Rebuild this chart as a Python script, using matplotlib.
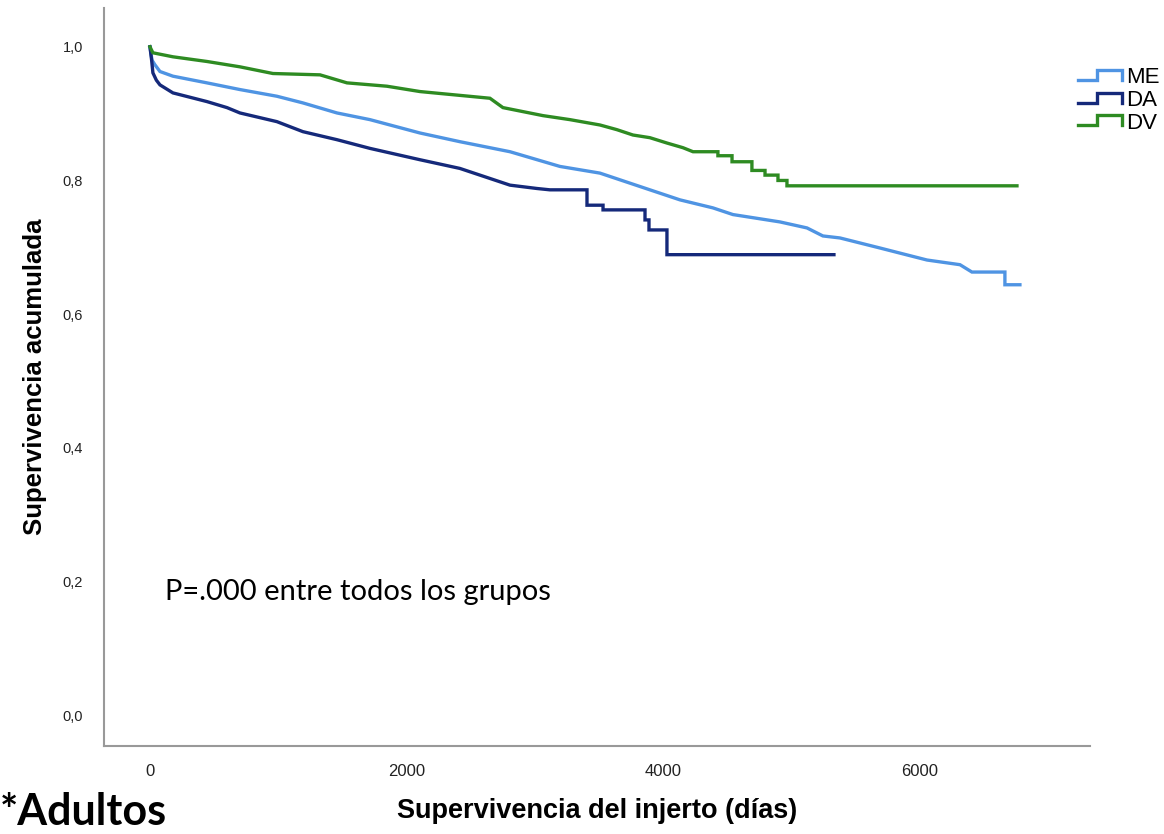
"""
Kaplan-Meier style graft survival curves (adultos) by donor group.
"""

import matplotlib
matplotlib.use("Agg")
import matplotlib.pyplot as plt
from matplotlib.legend_handler import HandlerBase
from matplotlib.lines import Line2D

# Data
me_days = [0, 16, 39, 78, 179, 444, 701, 989, 1192, 1457, 1714, 2104, 2415, 2805,
           3194, 3506, 3895, 4129, 4386, 4542, 4908, 5119, 5243, 5376, 5687, 6054,
           6311, 6404, 6661, 6661, 6778]
me_surv = [1.0, 0.980, 0.973, 0.963, 0.956, 0.946, 0.936, 0.926, 0.916, 0.901, 0.891,
           0.871, 0.858, 0.843, 0.821, 0.811, 0.786, 0.771, 0.759, 0.749, 0.738, 0.729,
           0.717, 0.714, 0.699, 0.681, 0.674, 0.663, 0.663, 0.644, 0.644]

da_days = [0, 13, 23, 50, 78, 179, 444, 600, 701, 989, 1192, 1457, 1714, 2104, 2415, 2805,
           3015, 3116, 3405, 3405, 3530, 3530, 3857, 3857, 3888, 3888, 4028, 4028, 5329]
da_surv = [1.0, 0.980, 0.961, 0.950, 0.943, 0.931, 0.918, 0.909, 0.901, 0.888, 0.873, 0.861,
           0.848, 0.831, 0.818, 0.793, 0.788, 0.786, 0.786, 0.763, 0.763, 0.756, 0.756,
           0.741, 0.741, 0.726, 0.726, 0.689, 0.689]

dv_days = [0, 23, 179, 444, 701, 958, 1325, 1535, 1846, 2104, 2649, 2750, 3062, 3272,
           3506, 3638, 3763, 3895, 4028, 4153, 4231, 4425, 4425, 4535, 4535, 4690, 4690,
           4792, 4792, 4893, 4893, 4963, 4963, 6755]
dv_surv = [1.0, 0.991, 0.985, 0.978, 0.970, 0.960, 0.958, 0.946, 0.941, 0.933, 0.923,
           0.909, 0.897, 0.891, 0.883, 0.876, 0.868, 0.864, 0.856, 0.849, 0.843, 0.843,
           0.837, 0.837, 0.828, 0.828, 0.815, 0.815, 0.808, 0.808, 0.800, 0.800, 0.792,
           0.792]

groups = ["ME", "DA", "DV"]
colors = ["#4F94E3", "#15297A", "#2E8B22"]

xticks = [0, 2000, 4000, 6000]
yticks = [0.0, 0.2, 0.4, 0.6, 0.8, 1.0]
ytick_labels = ["0,0", "0,2", "0,4", "0,6", "0,8", "1,0"]

W, H = 1164, 834


class StepHandler(HandlerBase):
    # small SPSS-like step symbol in the legend
    def create_artists(self, legend, orig_handle, xdescent, ydescent,
                       width, height, fontsize, trans):
        x0, y0 = -xdescent, -ydescent
        xs = [x0, x0 + 0.42 * width, x0 + 0.42 * width, x0 + width, x0 + width]
        ys = [y0 + 0.2 * height, y0 + 0.2 * height, y0 + 0.85 * height,
              y0 + 0.85 * height, y0 + 0.2 * height]
        line = Line2D(xs, ys, color=orig_handle.get_color(),
                      lw=orig_handle.get_linewidth(), solid_joinstyle="miter")
        line.set_transform(trans)
        return [line]


plt.rcParams["font.family"] = ["Liberation Sans", "DejaVu Sans"]

fig = plt.figure(figsize=(W / 100, H / 100), dpi=100)
ax = fig.add_axes([104 / W, 1 - 746 / H, (1090 - 104) / W, (746 - 8) / H])

lines = []
for days, surv, name, c in zip([me_days, da_days, dv_days],
                               [me_surv, da_surv, dv_surv], groups, colors):
    ln, = ax.plot(days, surv, color=c, lw=2.4, label=name, solid_joinstyle="miter")
    lines.append(ln)

ax.set_xlim(-358, 7324)
ax.set_ylim(-0.046, 1.058)
ax.set_xticks(xticks)
ax.set_xticklabels([str(t) for t in xticks])
ax.set_yticks(yticks)
ax.set_yticklabels(ytick_labels)
ax.tick_params(axis="both", length=0, colors="#222222")
ax.tick_params(axis="x", pad=13, labelsize=12)
ax.tick_params(axis="y", pad=15, labelsize=10.5)

for s in ["top", "right"]:
    ax.spines[s].set_visible(False)
for s in ["left", "bottom"]:
    ax.spines[s].set_color("#999999")
    ax.spines[s].set_linewidth(1.5)

ax.set_ylabel("Supervivencia acumulada", fontsize=18.5, fontweight="bold", labelpad=11)
ax.set_xlabel("Supervivencia del injerto (días)", fontsize=19.5, fontweight="bold",
              labelpad=14)

fig.legend(handles=lines, labels=groups, handler_map={Line2D: StepHandler()},
           loc="upper left", bbox_to_anchor=(1078 / W, 1 - 67 / H), frameon=False,
           fontsize=16, handlelength=2.0, handletextpad=0.15, labelspacing=0.08,
           borderpad=0, borderaxespad=0)

fig.text(165 / W, 1 - 600 / H, "P=.000 entre todos los grupos", fontsize=21,
         family=["Lato", "DejaVu Sans"], va="baseline", ha="left")
fig.text(0 / W, 2 / H, "*Adultos", fontsize=31, fontweight="bold",
         family=["Lato", "DejaVu Sans"], va="bottom", ha="left")

fig.savefig("out.png", dpi=100, facecolor="white")
